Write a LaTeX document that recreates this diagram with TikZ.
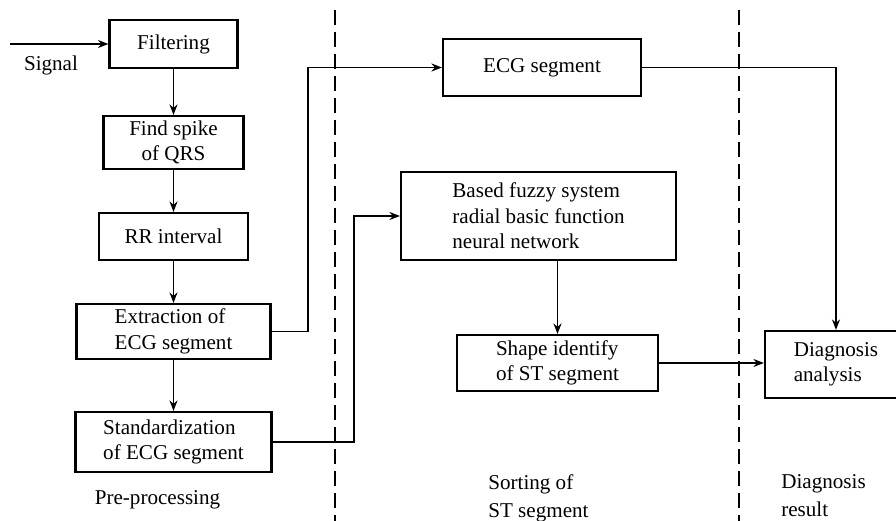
\documentclass[tikz,border=0pt]{standalone}
\usepackage{fontspec}
\setmainfont{Liberation Serif}
\usetikzlibrary{arrows.meta}

\begin{document}
\begin{tikzpicture}[
      >={Stealth[length=2.1mm,width=1.6mm]},
      every node/.style={font=\fontsize{12}{14.5}\selectfont},
      blk/.style={draw=black,line width=1.2pt,align=left,inner sep=2pt},
      flow/.style={draw=black,line width=1.1pt,->},
      lane/.style={draw=black,line width=1.1pt,dash pattern=on 8.5pt off 4pt},
      lanecap/.style={font=\fontsize{12}{16}\selectfont,align=left,inner sep=0pt}
    ]
    \useasboundingbox (0,0) rectangle (17.92,10.42);
    % lane separators
    \coordinate (l1t) at (6.70,10.22);
    \coordinate (l1b) at (6.70,0);
    \coordinate (l2t) at (14.78,10.22);
    \coordinate (l2b) at (14.78,0);
    \draw[lane] (l1t) -- (l1b);
    \draw[lane] (l2t) -- (l2b);
    % pre-processing chain
    \coordinate (sigin) at (0.2,9.54);
    \node (siglbl) at (1.02,9.12) {Signal};
    \node[blk,minimum width=2.56cm,minimum height=0.96cm] (filt) at (3.47,9.54) {Filtering};
    \node[blk,align=center,minimum width=2.80cm,minimum height=1.06cm] (spike) at (3.47,7.57) {Find spike\\ of QRS};
    \node[blk,minimum width=2.98cm,minimum height=0.94cm] (rr) at (3.47,5.69) {RR interval};
    \node[blk,minimum width=3.88cm,minimum height=1.10cm] (ext) at (3.47,3.79) {Extraction of\\ ECG segment};
    \node[blk,minimum width=3.92cm,minimum height=1.20cm] (std) at (3.47,1.58) {Standardization\\ of ECG segment};
    % sorting of ST segment
    \node[blk,minimum width=3.96cm,minimum height=1.14cm] (ecg) at (10.84,9.07) {ECG segment};
    \node[blk,minimum width=5.50cm,minimum height=1.76cm] (rbf) at (10.77,6.10)
      {Based fuzzy system\\ radial basic function\\ neural network};
    \node[blk,minimum width=4.02cm,minimum height=1.12cm] (st) at (11.15,3.16) {Shape identify\\ of ST segment};
    % diagnosis (box runs past the right edge)
    \node[blk,minimum width=2.84cm,minimum height=1.34cm] (diag) at (16.72,3.13) {Diagnosis\\ analysis};
    % lane captions
    \node (pre) at (3.15,0.42) {Pre-processing};
    \node[lanecap,anchor=north west] (sortlbl) at (9.76,0.93) {Sorting of\\ ST segment};
    \node[lanecap,anchor=north west] (reslbl) at (15.62,0.93) {Diagnosis\\ result};
    % arrows
    \draw[flow] (sigin) -- (filt);
    \draw[flow] (filt) -- (spike);
    \draw[flow] (spike) -- (rr);
    \draw[flow] (rr) -- (ext);
    \draw[flow] (ext) -- (std);
    \draw[flow] (ext.east) -- ++(0.73,0) |- (ecg.west);
    \draw[flow] (std.east) -- ++(1.63,0) |- (rbf.west);
    \draw[flow] (rbf.south -| st.north) -- (st.north);
    \draw[flow] (st.east) -- (st.east -| diag.west);
    \draw[flow] (ecg.east) -| (diag.north);
  \end{tikzpicture}
\end{document}
